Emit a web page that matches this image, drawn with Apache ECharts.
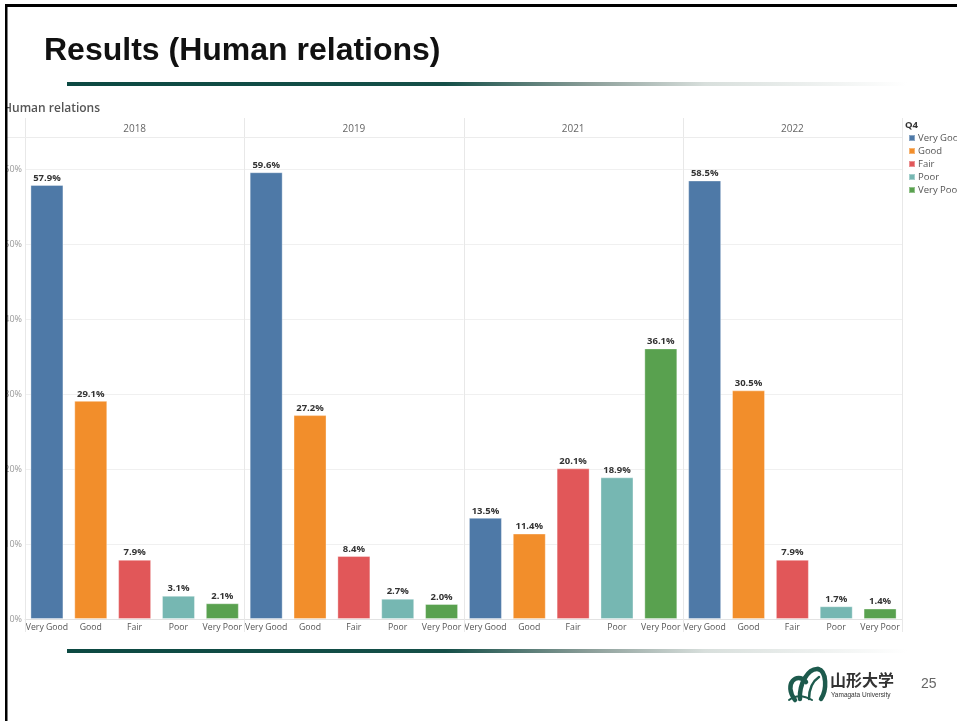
<!DOCTYPE html>
<html>
<head>
<meta charset="utf-8">
<script src="https://cdn.jsdelivr.net/npm/echarts@6/dist/echarts.min.js"></script>
<style>
html,body{margin:0;padding:0;background:#fff;}
#c{width:957px;height:721px;}
</style>
</head>
<body>
<div id="c"></div>
<script>
const levels = ['Very Good', 'Good', 'Fair', 'Poor', 'Very Poor'];
const years = ['2018', '2019', '2021', '2022'];
const v2018 = [57.9, 29.1, 7.9, 3.1, 2.1];
const v2019 = [59.6, 27.2, 8.4, 2.7, 2.0];
const v2021 = [13.5, 11.4, 20.1, 18.9, 36.1];
const v2022 = [58.5, 30.5, 7.9, 1.7, 1.4];
const panelValues = [v2018, v2019, v2021, v2022];
const palette = ['#4e79a7', '#f28e2b', '#e15759', '#76b7b2', '#59a14f'];

const FONT = '"Open Sans", "Noto Sans", sans-serif';
const panelLeft = 25, panelW = 219.25, plotTop = 137, plotH = 482;

const grids = [], xAxes = [], yAxes = [], series = [];
years.forEach((yr, p) => {
  grids.push({left: panelLeft + p * panelW, top: plotTop, width: panelW, height: plotH});
  xAxes.push({
    type: 'category', gridIndex: p, data: levels,
    axisLine: {show: true, lineStyle: {color: '#e2e2e2', width: 1}},
    axisTick: {show: false},
    axisLabel: {interval: 0, fontSize: 8.7, color: '#555', margin: 4, fontFamily: FONT}
  });
  yAxes.push({
    type: 'value', gridIndex: p, min: 0, max: 64.3, interval: 10,
    axisLine: {show: false}, axisTick: {show: false},
    splitLine: {lineStyle: {color: '#f0f0f0', width: 1}},
    axisLabel: {show: p === 0, showMaxLabel: false, fontSize: 9, color: '#999', margin: 3,
      fontFamily: FONT, formatter: v => v + '%'}
  });
  levels.forEach((lv, k) => {
    series.push({
      type: 'bar', name: lv, xAxisIndex: p, yAxisIndex: p, stack: 's' + p,
      barWidth: 33,
      data: levels.map((_, j) => j === k ? panelValues[p][k] : '-'),
      itemStyle: {color: palette[k], borderColor: 'rgba(255,255,255,0.35)', borderWidth: 1},
      label: {show: true, position: 'top', distance: 2, fontSize: 9.5, fontWeight: 'bold',
        color: '#333', fontFamily: FONT, formatter: d => Number(d.value).toFixed(1) + '%'},
      emphasis: {disabled: true}
    });
  });
});
years.forEach((yr, p) => {
  xAxes.push({
    type: 'category', gridIndex: p, position: 'top', data: [yr],
    axisLine: {show: false}, axisTick: {show: false}, splitLine: {show: false},
    axisLabel: {fontSize: 10, color: '#666', margin: 3, fontFamily: FONT}
  });
});

const lineGrad = {
  type: 'linear', x: 0, y: 0, x2: 1, y2: 0,
  colorStops: [
    {offset: 0, color: '#0c4942'}, {offset: 0.45, color: '#154f48'},
    {offset: 0.62, color: '#8a9d98'}, {offset: 0.76, color: '#d8dfdc'},
    {offset: 1, color: '#ffffff'}
  ]
};

const graphic = [];
for (let p = 0; p <= 4; p++) {
  const x = Math.round(panelLeft + p * panelW) + 0.5;
  graphic.push({type: 'line', z: 1, shape: {x1: x, y1: 118, x2: x, y2: 632},
    style: {stroke: '#e8e8e8', lineWidth: 1}});
}
graphic.push({type: 'line', z: 1, shape: {x1: 5, y1: 137.5, x2: 902, y2: 137.5},
  style: {stroke: '#ececec', lineWidth: 1}});
graphic.push({type: 'rect', z: 50, shape: {x: 67, y: 82, width: 840, height: 4}, style: {fill: lineGrad}});
graphic.push({type: 'rect', z: 50, shape: {x: 67, y: 649, width: 840, height: 4}, style: {fill: lineGrad}});
// slide frame
graphic.push({type: 'rect', z: 100, shape: {x: 0, y: 0, width: 5, height: 721}, style: {fill: '#fff'}});
graphic.push({type: 'rect', z: 101, shape: {x: 5, y: 4, width: 2.5, height: 717}, style: {fill: '#000'}});
graphic.push({type: 'rect', z: 101, shape: {x: 5, y: 4, width: 952, height: 3}, style: {fill: '#000'}});
// logo
const green = '#1d5a4d';
const curves = [
  [806, 682, 797, 671, 783, 684, 795, 700, 4.5],
  [800, 699, 799, 684, 808, 668, 818, 669, 4.5],
  [818, 669, 827, 671, 827, 690, 821, 699, 4.5],
  [809, 699, 809, 689, 813, 681, 819, 677, 2.5],
  [789, 700, 797, 694, 805, 696, 812, 700, 2]
];
curves.forEach(c => graphic.push({type: 'bezierCurve', z: 60,
  shape: {x1: c[0], y1: c[1], cpx1: c[2], cpy1: c[3], cpx2: c[4], cpy2: c[5], x2: c[6], y2: c[7]},
  style: {stroke: green, lineWidth: c[8], fill: null, lineCap: 'round'}}));
graphic.push({type: 'text', z: 60, left: 830, top: 672,
  style: {text: '山形大学', fontSize: 16, fontWeight: 'bold', fill: '#333', fontFamily: '"Noto Sans CJK JP", sans-serif'}});
graphic.push({type: 'text', z: 60, left: 831, top: 692,
  style: {text: 'Yamagata University', fontSize: 6.5, fill: '#333', fontFamily: '"Liberation Sans Narrow", "Liberation Sans", sans-serif'}});
graphic.push({type: 'text', z: 60, left: 921, top: 677,
  style: {text: '25', fontSize: 14, fill: '#666', fontFamily: '"Liberation Sans", Arial, sans-serif'}});

const option = {
  animation: false,
  color: palette,
  title: [
    {text: 'Results (Human relations)', left: 44, top: 35, padding: 0,
      textStyle: {fontSize: 32, fontWeight: 'bold', color: '#111', fontFamily: '"Liberation Sans", Arial, sans-serif'}},
    {text: 'Human relations', left: 3, top: 103, padding: 0,
      textStyle: {fontSize: 12, fontWeight: 600, color: '#555', fontFamily: FONT}},
    {text: 'Q4', left: 905, top: 120, padding: 0,
      textStyle: {fontSize: 9.5, fontWeight: 'bold', color: '#333', fontFamily: FONT}}
  ],
  legend: {
    data: levels, orient: 'vertical', left: 908, top: 133, padding: 0,
    icon: 'rect', itemWidth: 6, itemHeight: 6, itemGap: 3, selectedMode: false,
    textStyle: {fontSize: 9.5, color: '#555', fontFamily: FONT, padding: [0, 0, 0, -2]}
  },
  grid: grids, xAxis: xAxes, yAxis: yAxes, series: series, graphic: graphic
};
const chart = echarts.init(document.getElementById('c'), null, {renderer: 'canvas'});
chart.setOption(option);
</script>
</body>
</html>
